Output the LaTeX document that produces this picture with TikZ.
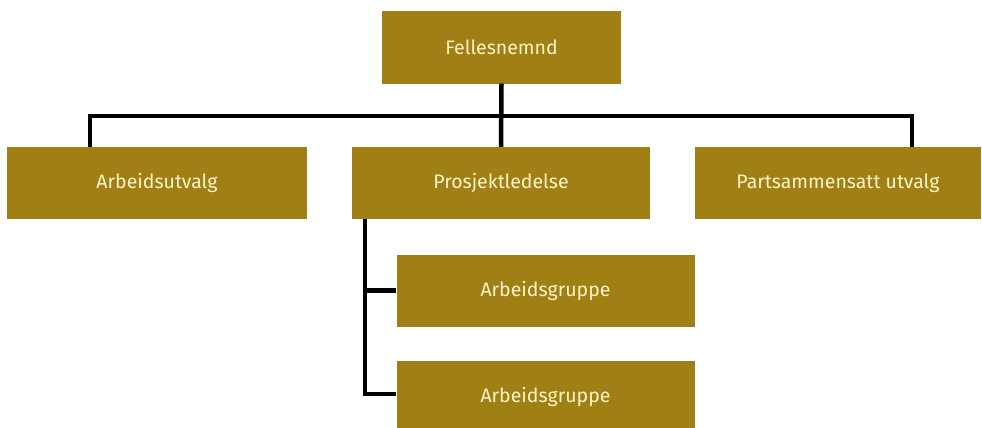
\documentclass[tikz,border=0pt]{standalone}
\usepackage{fontspec}
\setmainfont{Fira Sans}
\usetikzlibrary{positioning}
\definecolor{gold}{RGB}{160,127,21}
\definecolor{cream}{RGB}{255,243,200}

\begin{document}
\begin{tikzpicture}[x=1pt, y=-1pt,
    unit/.style={rectangle, fill=gold, text=cream, minimum height=72pt,
    inner sep=0pt, font=\fontsize{19.5}{23}\selectfont},
    conn/.style={draw=black, line width=4.5pt, line join=miter}]
    \useasboundingbox (0,0) rectangle (982,428);
    \node[unit, minimum width=239pt] (fn) at (501.5,47.5) {Fellesnemnd};
    \node[unit, minimum width=300pt] (au) at (157,183) {Arbeidsutvalg};
    \node[unit, minimum width=298pt] (pl) at (501,183) {Prosjektledelse};
    \node[unit, minimum width=286pt] (ps) at (838,183) {Partsammensatt utvalg};
    \node[unit, minimum width=298pt] (ag1) at (545.5,290.5) {Arbeidsgruppe};
    \node[unit, minimum width=298pt] (ag2) at (545.5,397) {Arbeidsgruppe};
    \coordinate (jl) at (90,116);
    \coordinate (jr) at (912,116);
    \coordinate (stem) at (365,394);
    \draw[conn] (au.north -| jl) -- (jl) -- (jr) -- (ps.north -| jr);
    \draw[conn] (fn.south) -- (pl.north);
    \draw[conn] (pl.south -| stem) -- (stem) -- (ag2.west |- stem);
    \draw[conn] (stem |- ag1.west) -- (ag1.west);
\end{tikzpicture}
\end{document}
